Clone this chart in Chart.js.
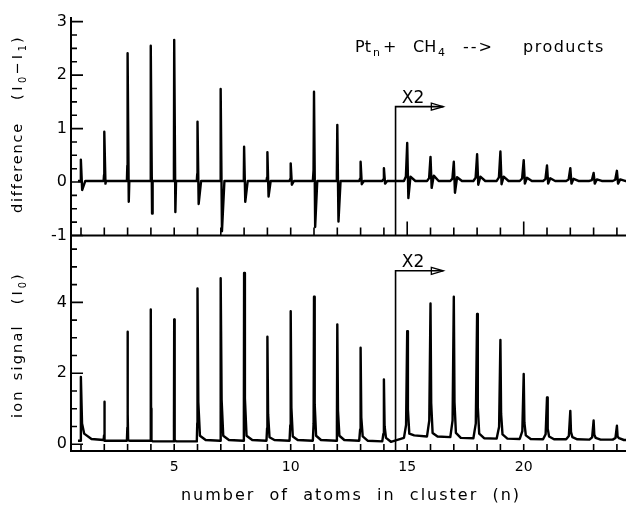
<!DOCTYPE html>
<html><head><meta charset="utf-8">
<script src="https://cdn.jsdelivr.net/npm/chart.js@4.4.1/dist/chart.umd.min.js"></script>
<style>
html,body{margin:0;padding:0;background:#fff;}
#wrap{position:relative;width:627px;height:511px;overflow:hidden;background:#fff;}
canvas{position:absolute;left:0;}
#topChart{top:0;}
#botChart{top:230px;}
</style></head><body>
<div id="wrap">
<canvas id="topChart" width="627" height="250"></canvas>
<canvas id="botChart" width="627" height="281"></canvas>
</div>
<script>
// ---------- data ----------
const clusterSizes = [1,2,3,4,5,6,7,8,9,10,11,12,13,14,15,16,17,18,19,20,21,22,23,24];
// difference (I0 - I1), top panel (values right of the X2 mark are as plotted)
const diffPeaks     = [0.42,0.94,2.41,2.55,2.66,1.13,1.74,0.66,0.56,0.35,1.69,1.07,0.38,0.26,0.73,0.47,0.38,0.52,0.57,0.41,0.31,0.26,0.17,0.21];
const diffDips      = [-0.15,-0.03,-0.37,-0.59,-0.56,-0.41,-0.92,-0.37,-0.27,-0.05,-0.84,-0.74,-0.04,-0.03,-0.30,-0.11,-0.20,-0.05,-0.04,-0.03,-0.03,-0.03,-0.03,-0.03];
const diffShoulders = [0.02,0.02,0.02,0.02,0.02,0.02,0.02,0.02,0.02,0.02,0.02,0.02,0.02,0.02,0.10,0.12,0.09,0.10,0.10,0.08,0.07,0.06,0.05,0.05];
const diffBaseline  = 0.02;
// ion signal (I0), bottom panel
const ionPeaks      = [1.90,1.20,3.17,3.80,3.52,4.39,4.68,4.83,3.03,3.75,4.16,3.38,2.72,1.83,3.19,3.97,4.16,3.67,2.94,1.98,1.32,0.94,0.67,0.52];
const ionShoulders  = [0.30,0.10,0.11,0.11,0.11,0.24,0.24,0.24,0.20,0.22,0.24,0.24,0.22,0.18,0.30,0.32,0.32,0.30,0.28,0.25,0.22,0.20,0.18,0.17];
const ionFootLeft   = [0.10,0.12,0.10,0.10,0.08,0.08,0.10,0.10,0.10,0.10,0.10,0.10,0.10,0.08,0.18,0.22,0.20,0.17,0.16,0.15,0.14,0.14,0.13,0.13];
const ionFootRight  = [0.15,0.10,0.10,0.08,0.08,0.12,0.12,0.12,0.12,0.12,0.12,0.12,0.10,0.07,0.25,0.22,0.18,0.17,0.16,0.15,0.14,0.14,0.13,0.12];
// peak widths (in n units) on the rising and falling side
const riseWidths    = [0.03,0.03,0.03,0.03,0.03,0.03,0.03,0.03,0.04,0.05,0.05,0.05,0.06,0.07,0.14,0.15,0.15,0.16,0.16,0.17,0.17,0.18,0.18,0.18];
const decayWidths   = [0.45,0.08,0.08,0.08,0.10,0.35,0.35,0.35,0.30,0.30,0.30,0.30,0.30,0.30,0.30,0.30,0.30,0.30,0.30,0.30,0.30,0.30,0.30,0.30];
// axes
const diffTicks = [-1,0,1,2,3];
const ionTicks  = [0,2,4];
const nTicks    = [5,10,15,20];
const nRange    = [0.571, 24.39];
const diffRange = [-1, 3.05];
const ionRange  = [-0.19, 5.87];
const traceStart = 0.87;
// "X2" annotation (gain change)
const x2Label = 'X2';
const x2Start = 14.5;
const x2ArrowEnd = 16.55;
const x2LabelAt = 15.25;
const x2LevelDiff = 1.41;
const x2LevelIon = 4.89;
const dipOffset = 0.05;

// ---------- build traces from the arrays ----------
function diffTrace() {
  const pts = [{x: traceStart, y: diffBaseline}];
  clusterSizes.forEach((n, i) => {
    const wl = riseWidths[i], wr = decayWidths[i], p = diffPeaks[i];
    pts.push({x: n - wl, y: diffBaseline});
    pts.push({x: n - wl * 0.4, y: diffBaseline + (p - diffBaseline) * 0.12});
    pts.push({x: n, y: p});
    pts.push({x: n + dipOffset, y: diffDips[i]});
    pts.push({x: n + dipOffset + wr * 0.3, y: diffShoulders[i]});
    pts.push({x: n + dipOffset + wr, y: diffBaseline});
  });
  pts.push({x: nRange[1], y: diffBaseline});
  return pts;
}
function ionTrace() {
  const pts = [{x: traceStart, y: ionFootLeft[0]}];
  clusterSizes.forEach((n, i) => {
    const wl = riseWidths[i], wr = decayWidths[i];
    const a = ionFootLeft[i], b = ionFootRight[i], p = ionPeaks[i];
    pts.push({x: n - wl, y: a});
    pts.push({x: n - wl * 0.35, y: a + (p - a) * 0.12});
    pts.push({x: n, y: p});
    pts.push({x: n + wr * 0.1, y: b + (p - b) * 0.25});
    pts.push({x: n + wr * 0.3, y: ionShoulders[i]});
    pts.push({x: n + wr, y: b});
  });
  pts.push({x: nRange[1], y: ionFootRight[ionFootRight.length - 1]});
  return pts;
}

const FONT = '"DejaVu Sans", "Liberation Sans", sans-serif';

function drawRuns(ctx, runs, size, spacing) {
  let cx = 0;
  for (const r of runs) {
    cx += r.gap || 0;
    const fs = r.sub ? size * 0.68 : size;
    ctx.font = fs + 'px ' + FONT;
    ctx.letterSpacing = (r.sp !== undefined ? r.sp : spacing) + 'px';
    ctx.fillText(r.t, cx, r.sub ? size * 0.3 : 0);
    cx += ctx.measureText(r.t).width;
  }
  ctx.letterSpacing = '0px';
  return cx;
}

const framePlugin = {
  id: 'frame',
  afterDraw(chart, args, o) {
    const ctx = chart.ctx, a = chart.chartArea;
    const xs = chart.scales.x, ys = chart.scales.y;
    ctx.save();
    ctx.strokeStyle = '#000'; ctx.fillStyle = '#000';
    ctx.lineWidth = 2;
    ctx.beginPath();
    ctx.moveTo(a.left, a.top - o.overshoot);
    ctx.lineTo(a.left, a.bottom);
    ctx.lineTo(a.right, a.bottom);
    ctx.stroke();
    // y tick marks (inward)
    ctx.lineWidth = 1.6;
    ctx.beginPath();
    for (let k = Math.ceil(ys.min / o.yMinor - 1e-9); k * o.yMinor <= ys.max + 1e-9; k++) {
      const v = k * o.yMinor;
      const py = ys.getPixelForValue(v);
      const major = Math.abs(v / o.yMajor - Math.round(v / o.yMajor)) < 1e-6;
      ctx.moveTo(a.left, py); ctx.lineTo(a.left + (major ? 12 : 6), py);
    }
    ctx.stroke();
    // x tick marks (inward)
    ctx.beginPath();
    clusterSizes.forEach(n => {
      const px = xs.getPixelForValue(n);
      const len = o.longX.includes(n) ? 14 : o.xTick;
      ctx.moveTo(px, a.bottom); ctx.lineTo(px, a.bottom - len);
    });
    ctx.stroke();
    // X2 marker
    const mx = xs.getPixelForValue(x2Start), my = ys.getPixelForValue(o.markerLevel), ex = xs.getPixelForValue(x2ArrowEnd);
    ctx.lineWidth = 1.6;
    ctx.beginPath(); ctx.moveTo(mx, a.bottom); ctx.lineTo(mx, my); ctx.lineTo(ex, my); ctx.stroke();
    ctx.lineWidth = 1.3;
    ctx.beginPath(); ctx.moveTo(ex - 12, my - 3.5); ctx.lineTo(ex, my); ctx.lineTo(ex - 12, my + 3.5); ctx.closePath(); ctx.stroke();
    ctx.font = '17px ' + FONT; ctx.textAlign = 'center'; ctx.textBaseline = 'alphabetic';
    ctx.fillText(x2Label, xs.getPixelForValue(x2LabelAt), my - 4);
    ctx.textAlign = 'left';
    if (o.texts) o.texts(ctx, chart);
    ctx.restore();
  }
};

function baseOptions(yRange, yTicks, xShow) {
  return {
    responsive: false, animation: false, events: [],
    plugins: {legend: {display: false}, tooltip: {enabled: false}},
    scales: {
      x: {
        type: 'linear', min: nRange[0], max: nRange[1], display: xShow,
        grid: {display: false, drawTicks: false}, border: {display: false},
        afterBuildTicks: s => { s.ticks = nTicks.map(v => ({value: v})); },
        ticks: {color: '#000', font: {family: FONT, size: 14}, padding: 8, maxRotation: 0, autoSkip: false},
        afterFit: s => { s.height = xShow ? 60 : 0; s.paddingLeft = 0; s.paddingRight = 0; }
      },
      y: {
        type: 'linear', min: yRange[0], max: yRange[1],
        grid: {display: false, drawTicks: false}, border: {display: false},
        afterBuildTicks: s => { s.ticks = yTicks.map(v => ({value: v})); },
        ticks: {color: '#000', font: {family: FONT, size: 16}, padding: 4},
        afterFit: s => { s.width = 71; s.paddingTop = 0; s.paddingBottom = 0; }
      }
    }
  };
}

// ---------- top panel ----------
const topOpts = baseOptions(diffRange, diffTicks, false);
topOpts.layout = {padding: {top: 19, bottom: 14.5, left: 0, right: 1}};
topOpts.plugins.frame = {
  overshoot: 2, yMinor: 0.25, yMajor: 1, xTick: 8, longX: [15, 20], markerLevel: x2LevelDiff,
  texts: (ctx) => {
    ctx.textBaseline = 'alphabetic';
    ctx.save();
    const title = [['Pt', 355, false], ['n', 373, true], ['+', 383, false], ['CH', 413, false], ['4', 438, true], ['-->', 463, false], ['products', 523, false]];
    title.forEach(([t, x, sub]) => {
      ctx.font = (sub ? 11 : 16) + 'px ' + FONT;
      ctx.letterSpacing = (t === 'products' ? 1.5 : (t === '-->' ? 2 : 0)) + 'px';
      ctx.fillText(t, x, sub ? 56 : 51.7);
    });
    ctx.restore();
    ctx.save();
    ctx.translate(22, 213); ctx.rotate(-Math.PI / 2);
    drawRuns(ctx, [
      {t: 'difference'},
      {t: '(I', gap: 22, sp: 3.5}, {t: '0', sub: true, sp: 2}, {t: '−I', sp: 3.5}, {t: '1', sub: true, sp: 2}, {t: ')', sp: 3.5}
    ], 14.5, 1.8);
    ctx.restore();
  }
};
new Chart(document.getElementById('topChart'), {
  type: 'line',
  data: {datasets: [{label: 'difference (I0-I1)', data: diffTrace(), borderColor: '#000', borderWidth: 2.4, pointRadius: 0, tension: 0, fill: false, borderJoinStyle: 'round'}]},
  options: topOpts,
  plugins: [framePlugin]
});

// ---------- bottom panel ----------
const botOpts = baseOptions(ionRange, ionTicks, true);
botOpts.layout = {padding: {top: 6, bottom: 0, left: 0, right: 1}};
botOpts.plugins.frame = {
  overshoot: 0, yMinor: 0.5, yMajor: 2, xTick: 7, longX: [], markerLevel: x2LevelIon,
  texts: (ctx) => {
    ctx.textBaseline = 'alphabetic';
    ctx.save();
    ctx.translate(22, 188); ctx.rotate(-Math.PI / 2);
    drawRuns(ctx, [
      {t: 'ion'}, {t: 'signal', gap: 9},
      {t: '(I', gap: 20, sp: 3}, {t: '0', sub: true, sp: 2}, {t: ')', sp: 3}
    ], 14.5, 2.2);
    ctx.restore();
    ctx.save();
    ctx.font = '16px ' + FONT; ctx.letterSpacing = '2px'; ctx.textAlign = 'center';
    ctx.fillText('number  of  atoms  in  cluster  (n)', 351, 270);
    ctx.restore();
  }
};
new Chart(document.getElementById('botChart'), {
  type: 'line',
  data: {datasets: [{label: 'ion signal (I0)', data: ionTrace(), borderColor: '#000', borderWidth: 2.4, pointRadius: 0, tension: 0, fill: false, borderJoinStyle: 'round'}]},
  options: botOpts,
  plugins: [framePlugin]
});
</script>
</body></html>
